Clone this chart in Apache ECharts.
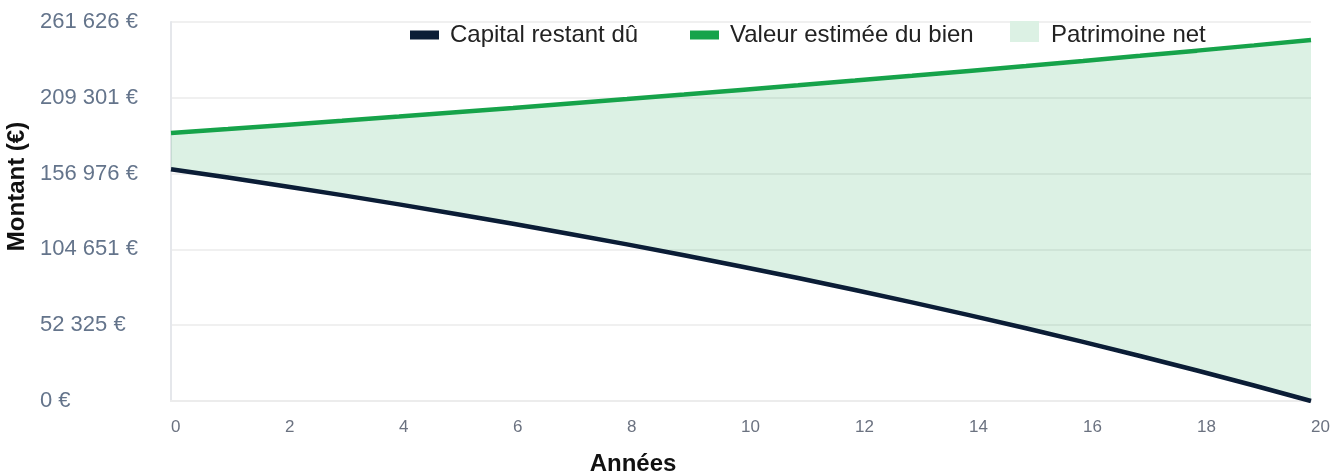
<!DOCTYPE html>
<html>
<head>
<meta charset="utf-8">
<script src="https://cdn.jsdelivr.net/npm/echarts@6/dist/echarts.min.js"></script>
<style>
  html, body { margin: 0; padding: 0; background: #fff; }
  #chart { width: 1343px; height: 475px; }
</style>
</head>
<body>
<div id="chart"></div>
<script>
  // années 0..20
  var years = ['0', '1', '2', '3', '4', '5', '6', '7', '8', '9', '10', '11', '12', '13', '14', '15', '16', '17', '18', '19', '20'];
  // capital restant dû (€)
  var capital = [160000, 154230, 148260, 142100, 135730, 129150, 122360, 115340, 108100, 100610,
    92870, 84880, 76630, 68090, 59290, 50190, 40790, 31080, 21050, 10690, 0];
  // valeur estimée du bien (€)
  var valeur = [185000, 187780, 190590, 193450, 196350, 199300, 202290, 205320, 208400, 211530,
    214700, 217920, 221190, 224510, 227880, 231300, 234770, 238290, 241860, 245490, 249170];
  var yMax = 261626.4;
  var yTicks = 5;

  var fmtEur = function (v) {
    return String(Math.round(v)).replace(/\B(?=(\d{3})+(?!\d))/g, ' ') + ' €';
  };

  // écart entre les deux courbes, empilé sur le capital
  var net = valeur.map(function (v, i) { return v - capital[i]; });

  var chartDom = document.getElementById('chart');
  var myChart = echarts.init(chartDom);
  var font = 'Liberation Sans, Arial, sans-serif';
  var legendText = { fontSize: 24, color: '#222', fontFamily: font, padding: [0, 0, 0, 6] };

  var option = {
    animation: false,
    textStyle: { fontFamily: font },
    legend: [
      {
        left: 410, top: 23, padding: 0,
        itemWidth: 29, itemHeight: 9, icon: 'rect',
        textStyle: legendText,
        data: ['Capital restant dû']
      },
      {
        left: 690, top: 23, padding: 0,
        itemWidth: 29, itemHeight: 9, icon: 'rect',
        textStyle: legendText,
        data: ['Valeur estimée du bien']
      },
      {
        left: 1010, top: 21, padding: 0,
        itemWidth: 29, itemHeight: 21, icon: 'rect',
        formatter: '{a|{name}}',
        textStyle: {
          fontSize: 24, color: '#222', fontFamily: font,
          rich: { a: { fontSize: 24, color: '#222', fontFamily: font, padding: [8, 0, 0, 7] } }
        },
        data: ['Patrimoine net']
      }
    ],
    grid: { left: 171, right: 32, top: 22, bottom: 74, outerBoundsMode: 'none' },
    xAxis: {
      type: 'category',
      data: years,
      boundaryGap: false,
      name: 'Années',
      nameLocation: 'middle',
      nameGap: 51,
      nameTextStyle: { fontSize: 24, fontWeight: 'bold', color: '#111', padding: [0, 216, 0, 0] },
      axisLine: { show: true, lineStyle: { color: '#ececec', width: 2 } },
      axisTick: { show: false },
      splitLine: { show: false },
      axisLabel: { color: '#6b7280', fontSize: 17, align: 'left', margin: 18, interval: 1 }
    },
    yAxis: {
      type: 'value',
      min: 0, max: yMax, interval: yMax / yTicks,
      name: 'Montant (€)',
      nameLocation: 'middle',
      nameGap: 141,
      nameTextStyle: { fontSize: 24, fontWeight: 'bold', color: '#111', padding: [0, 0, 0, 50] },
      axisLine: { show: true, lineStyle: { color: '#e5e7eb', width: 2 } },
      axisTick: { show: false },
      splitLine: { show: true, lineStyle: { color: '#f0f0f0', width: 2 } },
      axisLabel: { color: '#64748b', fontSize: 22, align: 'left', margin: 131, formatter: fmtEur }
    },
    series: [
      {
        name: 'base',
        type: 'line',
        stack: 'net',
        data: capital,
        symbol: 'none',
        lineStyle: { width: 0, opacity: 0 },
        silent: true,
        z: 1
      },
      {
        name: 'Patrimoine net',
        type: 'line',
        stack: 'net',
        data: net,
        symbol: 'none',
        color: '#dcf1e4',
        lineStyle: { width: 0, opacity: 0 },
        areaStyle: { color: 'rgba(22,163,74,0.15)', opacity: 1 },
        z: 1
      },
      {
        name: 'Capital restant dû',
        type: 'line',
        data: capital,
        symbol: 'none',
        color: '#0b1d36',
        lineStyle: { width: 4.5, color: '#0b1d36' },
        z: 3
      },
      {
        name: 'Valeur estimée du bien',
        type: 'line',
        data: valeur,
        symbol: 'none',
        color: '#16a34a',
        lineStyle: { width: 4.5, color: '#16a34a' },
        z: 3
      }
    ]
  };

  myChart.setOption(option);
</script>
</body>
</html>
